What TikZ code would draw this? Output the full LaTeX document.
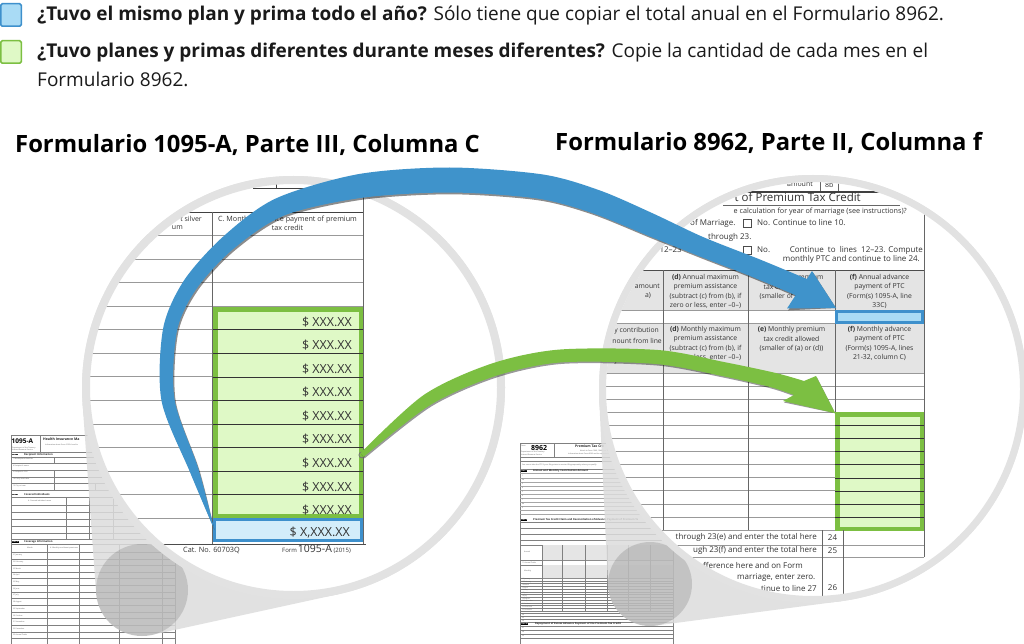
\documentclass[tikz,border=0pt]{standalone}
\usepackage{fontspec}
\setmainfont{Open Sans}
\usetikzlibrary{calc}
\definecolor{ringgrey}{HTML}{E2E2E2}
\definecolor{conegrey}{HTML}{DCDCDC}
\definecolor{arrowblue}{HTML}{3F93CB}
\definecolor{boxblue}{HTML}{3E90CC}
\definecolor{fillblueA}{HTML}{D3EDFA}
\definecolor{fillblueB}{HTML}{A9DBF5}
\definecolor{arrowgreen}{HTML}{7CBF42}
\definecolor{fillgreen}{HTML}{DFF9C6}
\definecolor{hdrgrey}{HTML}{E4E4E4}
\definecolor{txtgrey}{HTML}{333333}
\definecolor{legtxt}{HTML}{1A1A1A}
\newcommand{\fsz}[1]{\fontsize{#1}{#1}\selectfont}
\newcommand{\fszl}[2]{\fontsize{#1}{#2}\selectfont}
\tikzset{
  legtext/.style={anchor=west, inner sep=0, font=\fsz{19}, text=legtxt},
  heading/.style={anchor=west, inner sep=0, font=\bfseries\fsz{23.8}, text=black},
  legbox/.style={line width=1.5pt, minimum width=20.5pt, minimum height=22.5pt, inner sep=0, rounded corners=1.5pt},
  hlbox/.style={anchor=north west, inner sep=0, outer sep=0},
  formline/.style={draw=black!50, line width=0.3pt},
  tinytxt/.style={inner sep=0, anchor=west, text=black!65, font=\fsz{1.8}},
  tinybold/.style={inner sep=0, anchor=west, text=black!85, font=\bfseries\fsz{2.6}},
  partlbl/.style={inner sep=0.3pt, fill=black, text=white, font=\bfseries\fsz{1.8}, anchor=west},
  gridline/.style={draw=black!40, line width=0.9pt},
  darkline/.style={draw=black!75, line width=0.7pt},
  colline/.style={draw=black!60, line width=0.8pt},
  money/.style={inner sep=0, anchor=base east, font=\fsz{12.5}, text=txtgrey},
  hdrtxt/.style={inner sep=0, align=center, font=\fszl{6.8}{9.5}, text=txtgrey},
  formtxt/.style={inner sep=0, font=\fsz{8}, text=txtgrey},
}
\newcommand{\bluearrowshape}[1]{%
\fill[#1] plot[smooth, tension=0.5] coordinates {(btail) (189.7,471.4) (161.5,400.7) (163.1,328.6) (183.7,280.9) (222.5,237.2) (275.3,198.7) (358,174.2) (449.6,167.5) (543,174.5) (600,190.5) (652,213) (703,237) (760,259.5) (806.9,279)}
 -- (812,271) -- (btip) -- (787,308.5)
 -- plot[smooth, tension=0.5] coordinates {(795.6,295.2) (750,276) (700,256.5) (650,236.5) (592,213) (537,198.5) (450.4,192.5) (362,197.8) (284.7,215.3) (233.5,248.8) (196.3,289.1) (176.9,331.4) (174.5,399.4) (198.3,468.6) (btail)} -- cycle;}
\newcommand{\greenarrowshape}[1]{%
\fill[#1] plot[smooth, tension=0.5] coordinates {(360.4,453.1) (423.7,395) (491,363.8) (559,349.6) (658,350) (724.4,362.1) (775.8,373) (804,381)}
 -- (816,376) -- (gtip) -- (783,401)
 -- plot[smooth, tension=0.5] coordinates {(794,395) (770.2,387) (721.6,375.9) (656,364) (561,362.4) (495,376.2) (430.3,405) (363.6,456.9)} -- cycle;}
\begin{document}
\begin{tikzpicture}[x=1pt,y=-1pt]
\useasboundingbox (0,0) rectangle (1024,644);
\fill[white] (0,0) rectangle (1024,644);

% ---------------- legend and headings
\node[legbox, draw=boxblue, fill=fillblueB] (legblue) at (11,15) {};
\node[legbox, draw=arrowgreen, fill=fillgreen] (leggreen) at (11,52) {};
\node[legtext] (leg1) at (37,16) {{\bfseries ¿Tuvo el mismo plan y prima todo el año?} Sólo tiene que copiar el total anual en el Formulario 8962.};
\node[legtext] (leg2) at (37,53) {{\bfseries ¿Tuvo planes y primas diferentes durante meses diferentes?} Copie la cantidad de cada mes en el};
\node[legtext] (leg3) at (37,79) {Formulario 8962.};
\node[heading] (headL) at (15,145) {Formulario 1095-A, Parte III, Columna C};
\node[heading] (headR) at (555,143) {Formulario 8962, Parte II, Columna f};

% ---------------- thumbnail of Form 1095-A
\draw[formline] (11,435) rectangle (175,660);
\node[inner sep=0, anchor=west, font=\bfseries\fsz{6.5}] (fa1) at (11.5,441.5) {1095-A};
\draw[formline] (40,435) -- (40,452);
\node[tinybold, font=\bfseries\fsz{3.5}] (fa2) at (43,439) {Health Insurance Ma};
\node[tinytxt] (fa3) at (45,444.5) {Information about Form 1095-A and its};
\node[tinytxt] (fa4) at (12,448) {Department of the Treasury};
\node[tinytxt] (fa5) at (12,450.3) {Internal Revenue Service};
\draw[formline] (11,452) -- (175,452);
\node[partlbl] (fa6) at (12,454.5) {Part I};
\node[tinybold] (fa7) at (24,454.5) {Recipient Information};
\foreach \y in {457,463.5,470,477,483.5,490} \draw[formline] (11,\y) -- (175,\y);
\draw[formline] (54,457) -- (54,463.5) (54,470) -- (54,490) (95,483.5) -- (95,490);
\node[tinytxt] (fa8) at (13,459.5) {1 Marketplace identifier};
\node[tinytxt] (fa9) at (13,466) {4 Recipient's name};
\node[tinytxt] (fa10) at (13,472.5) {5 Recipient's SSN};
\node[tinytxt] (fa11) at (13,479.5) {10 Policy start date};
\node[tinytxt] (fa12) at (13,486) {12 City or town};
\node[partlbl] (fa13) at (12,494.5) {Part II};
\node[tinybold] (fa14) at (24,494.5) {Covered Individuals};
\foreach \y in {497,505,512,519,526,533,539.5} \draw[formline] (11,\y) -- (175,\y);
\draw[formline] (66,497) -- (66,539.5) (89,497) -- (89,539.5) (113,497) -- (113,539.5);
\node[tinytxt] (fa15) at (28,501) {A. Covered individual name};
\node[partlbl] (fa16) at (12,542) {Part III};
\node[tinybold] (fa17) at (24,542) {Coverage Information};
\draw[formline] (11,544) -- (175,544) (11,552) -- (175,552);
\foreach \i/\m in {0/21 January,1/22 February,2/23 March,3/24 April,4/25 May,5/26 June,6/27 July,7/28 August,8/29 September,9/30 October,10/31 November,11/32 December,12/33 Annual Totals} {
  \draw[formline] (11,{552+6.65*(\i+1)}) -- (175,{552+6.65*(\i+1)});
  \node[tinytxt] (mo\i) at (13,{555.5+6.65*\i}) {\m};
}
\draw[formline] (47,544) -- (47,650) (79,544) -- (79,650) (119,544) -- (119,650) (162,544) -- (162,650);
\node[tinytxt] (fa18) at (27,548) {Month};
\node[tinytxt] (fa19) at (50,548) {A. Monthly enrollment premiums};

% ---------------- thumbnail of Form 8962
\draw[formline] (520,443) rectangle (673,660);
\node[tinytxt] (fb1) at (521,446) {Form};
\node[inner sep=0, anchor=west, font=\bfseries\fsz{7}] (fb2) at (531,447.5) {8962};
\draw[formline] (554,443) -- (554,457);
\node[tinybold, font=\bfseries\fsz{3.4}] (fb3) at (575,446) {Premium Tax Cre};
\node[tinytxt] (fb4) at (521,452) {Department of the Treasury};
\node[tinytxt] (fb5) at (521,454.5) {Internal Revenue Service};
\node[tinytxt] (fb6) at (580,450.5) {Attach to Form 1040, 1040A, or 1040NR.};
\node[tinytxt] (fb7) at (568,454) {Information about Form 8962 and its separate instructions};
\draw[formline] (520,457) -- (673,457) (520,461) -- (673,461) (520,469) -- (673,469);
\node[tinytxt] (fb8) at (522,465) {You cannot take the PTC if your filing status is married filing separately unless you qualify};
\node[partlbl] (fb9) at (521,471.3) {Part I};
\node[tinybold] (fb10) at (533,471.3) {Annual and Monthly Contribution Amount};
\foreach \y in {473.5,478,482,486,490,494,498,502,506,510,514} \draw[formline, draw=black!35] (520,\y) -- (673,\y);
\foreach \y/\t in {476/1,480/2a,484/3,488/4,492/5,496/6,500/7,504/8a,508/9} \node[tinytxt] (fbn\t) at (522,\y) {\t};
\node[partlbl] (fb11) at (521,520) {Part II};
\node[tinybold] (fb12) at (533,520) {Premium Tax Credit Claim and Reconciliation of Advance Payment of Premium Ta};
\foreach \y in {522.5,528,534,540,545,560,565,578} \draw[formline] (520,\y) -- (673,\y);
\fill[black!10] (542,545) rectangle (673,560) (542,565) rectangle (673,578);
\node[tinytxt] (fb13) at (524,552) {Annual};
\node[tinytxt] (fb14) at (522,562.5) {11 Annual Totals};
\node[tinytxt] (fb15) at (524,571) {Monthly};
\foreach \i/\m in {0/12 January,1/13 February,2/14 March,3/15 April,4/16 May,5/17 June,6/18 July,7/19 August,8/20 September,9/21 October,10/22 November,11/23 December} {
  \draw[formline] (520,{578+2.75*(\i+1)}) -- (673,{578+2.75*(\i+1)});
  \node[tinytxt, font=\fsz{1.6}] (mb\i) at (522,{579.4+2.75*\i}) {\m};
}
\foreach \x in {542,562,585,607,628,650} \draw[formline] (\x,545) -- (\x,611);
\foreach \y in {613,616,619,622} \draw[formline] (520,\y) -- (673,\y);
\node[tinytxt] (fb16) at (522,614.5) {24};
\node[tinytxt] (fb17) at (522,617.5) {25};
\node[tinytxt] (fb18) at (522,620.5) {26};
\node[partlbl] (fb19) at (521,624) {Part III};
\node[tinybold] (fb20) at (535,624) {Repayment of Excess Advance Payment of the Premium Tax Credit};
\foreach \y in {626,630,634,638} \draw[formline] (520,\y) -- (673,\y);
\node[tinytxt] (fb21) at (522,628) {27};
\node[tinytxt] (fb22) at (522,632) {28};
\node[tinytxt] (fb23) at (522,636) {29};

% ---------------- magnifier cones
\begin{scope}[transparency group, opacity=0.85]
 \fill[conegrey] (82.5,402.5) -- (96.1,593.3) -- (151.8,634.9) -- (338.7,594.1) -- (293.5,387.5) -- cycle;
 \fill[conegrey] (142,590) circle (46pt);
 \fill[conegrey] (293.5,387.5) circle (211.5pt);
 \fill[conegrey] (599.2,399) -- (608,586) -- (655.5,625.6) -- (841,601.2) -- (813,389) -- cycle;
 \fill[conegrey] (650,584) circle (42pt);
 \fill[conegrey] (813,389) circle (214pt);
\end{scope}
\fill[black, opacity=0.13] (142,590) circle (46pt);
\fill[black, opacity=0.13] (650,584) circle (42pt);

% ---------------- left magnified view
\fill[white] (293.5,387.5) circle (208pt);
\begin{scope}
\clip (293.5,387.5) circle (204pt);
\draw[darkline] (253,188) -- (366,188);
\draw[darkline] (276,176) -- (276,188);
\draw[darkline] (60,212) -- (363,212);
\foreach \k in {1,...,13} \draw[gridline] (60,{212+23.55*\k}) -- (363,{212+23.55*\k});
\draw[colline] (212,212) -- (212,545);
\draw[colline] (363,188) -- (363,545);
\node[inner sep=0, anchor=east, font=\fsz{7}, text=txtgrey] (lhB1) at (202,219) {t silver};
\node[inner sep=0, anchor=east, font=\fsz{7}, text=txtgrey] (lhB2) at (183,227.5) {um};
\node[hdrtxt, font=\fszl{7.2}{8.5}] (lhC) at (287.5,223.5) {C. Monthly advance payment of premium\\tax credit};
\node[hlbox, draw=arrowgreen, line width=4.5pt, fill=fillgreen, minimum width=145.5pt, minimum height=206.5pt] (lgreen) at (215.25,309.25) {};
\foreach \k in {1,...,8} \draw[black!80, line width=0.6pt] (213,{306.2+23.55*\k}) -- (363,{306.2+23.55*\k});
\foreach \k in {1,...,9} \node[money] (m\k) at (352,{306.2+23.55*\k-3.6}) {\$ XXX.XX};
\node[hlbox, draw=boxblue, line width=3pt, fill=fillblueA, minimum width=147pt, minimum height=21pt] (lblue) at (214.5,519.5) {};
\node[money] (mtot) at (350,536.5) {\$ X,XXX.XX};
\draw[black!70, line width=1.5pt] (60,544.5) -- (366,544.5);
\node[inner sep=0, anchor=base west, font=\fsz{7.3}, text=txtgrey] (catno) at (183,552.5) {Cat. No. 60703Q};
\node[inner sep=0, anchor=base west, text=txtgrey] (formno) at (282,552.5) {{\fsz{6}Form\,}{\fsz{10.5}1095-A}{\fsz{6} (2015)}};
\end{scope}
\draw[ringgrey, line width=8pt] (293.5,387.5) circle (207.5pt);

% ---------------- right magnified view
\fill[white] (813,389) circle (210pt);
\begin{scope}
\clip (813,389) circle (207pt);
\node[formtxt, font=\fsz{7}, anchor=east] (ramt) at (813,184.5) {amount};
\node[formtxt, font=\fsz{7}, anchor=west] (r8b) at (825,184.5) {8b};
\draw[colline] (820,170) -- (820,192) (838,170) -- (838,192);
\draw[black!75, line width=1.3pt] (720,192) -- (926,192);
\node[formtxt, font=\fsz{11.5}, anchor=base east] (rtitle) at (861,202) {t of Premium Tax Credit};
\draw[black!60, line width=0.6pt] (723,205.5) -- (900,205.5);
\node[formtxt, font=\fsz{7.2}, anchor=east] (rl1) at (907,211.5) {e calculation for year of marriage (see instructions)?};
\node[formtxt, anchor=west] (rl2) at (690,223) {of Marriage.};
\draw[black!70, line width=0.6pt] (743,219) rectangle (751,227);
\node[formtxt, anchor=west] (rl3) at (757,223) {No. Continue to line 10.};
\node[formtxt, anchor=west] (rl4) at (708,237) {through 23.};
\node[formtxt, anchor=east] (rl5) at (682,250) {12–23};
\draw[black!70, line width=0.6pt] (743,246) rectangle (751,254);
\node[formtxt, anchor=west] (rl6a) at (757,250) {No.};
\node[formtxt, anchor=east] (rl6) at (923,250) {Continue\ \ to\ \ lines\ \ 12–23. Compute};
\node[formtxt, anchor=east] (rl7) at (920,259.5) {monthly PTC and continue to line 24.};
\fill[hdrgrey] (595,270) rectangle (924,310);
\fill[hdrgrey] (595,323) rectangle (924,373);
\draw[black!70, line width=1pt] (595,270) -- (924,270);
\draw[gridline] (595,310) -- (924,310) (595,323) -- (924,323);
\foreach \k in {0,...,12} \draw[gridline] (595,{373+13.1*\k}) -- (924,{373+13.1*\k});
\draw[colline] (663,270) -- (663,530.2) (748,270) -- (748,530.2) (835,270) -- (835,530.2);
\draw[colline] (924,214) -- (924,557);
\node[formtxt, font=\fsz{6.8}, anchor=east] (rha) at (660,286) {amount};
\node[formtxt, font=\fsz{6.8}, anchor=east] (rhb) at (651,295.5) {a)};
\node[hdrtxt] (rhd1) at (705.5,291.5) {{\bfseries (d)} Annual maximum\\premium assistance\\(subtract (c) from (b), if\\zero or less, enter –0–)};
\node[hdrtxt] (rhe1) at (791.5,287) {{\bfseries (e)} Annual premium\\tax credit allowed\\(smaller of (a) or (d))};
\node[hdrtxt] (rhf1) at (879.5,291.5) {{\bfseries (f)} Annual advance\\payment of PTC\\(Form(s) 1095-A, line\\33C)};
\node[formtxt, font=\fsz{6.8}, anchor=east] (rhc1) at (659,331) {y contribution};
\node[formtxt, font=\fsz{6.8}, anchor=east] (rhc2) at (662,340.5) {nount from line};
\node[formtxt, font=\fsz{6.8}, anchor=east] (rhc3) at (659,361) {y contribution};
\node[hdrtxt] (rhd2) at (705.5,343.5) {{\bfseries (d)} Monthly maximum\\premium assistance\\(subtract (c) from (b), if\\zero or less, enter –0–)};
\node[hdrtxt] (rhe2) at (791.5,339) {{\bfseries (e)} Monthly premium\\tax credit allowed\\(smaller of (a) or (d))};
\node[hdrtxt] (rhf2) at (879.5,343.5) {{\bfseries (f)} Monthly advance\\payment of PTC\\(Form(s) 1095-A, lines\\21-32, column C)};
\node[hlbox, draw=boxblue, line width=3pt, fill=fillblueB, minimum width=86pt, minimum height=11pt] (rblue) at (836.5,311.5) {};
\node[hlbox, draw=arrowgreen, line width=4.5pt, fill=fillgreen, minimum width=84.5pt, minimum height=114.5pt] (rgreen) at (837.25,414.25) {};
\foreach \k in {4,...,11} \draw[black!80, line width=0.6pt] (835,{373+13.1*\k}) -- (924,{373+13.1*\k});
\draw[gridline] (595,545) -- (924,545) (595,557) -- (924,557);
\draw[colline] (822,530.2) -- (822,600) (843,530.2) -- (843,600);
\node[formtxt, anchor=east] (rb1) at (817,537.5) {through 23(e) and enter the total here};
\node[formtxt] (rb2) at (832.5,537.5) {24};
\node[formtxt, anchor=east] (rb3) at (817,550.5) {ugh 23(f) and enter the total here};
\node[formtxt] (rb4) at (832.5,550.5) {25};
\node[formtxt, anchor=west] (rb5) at (703,565) {fference here and on Form};
\node[formtxt, anchor=west] (rb6) at (737,578) {marriage, enter zero.};
\node[formtxt, anchor=east] (rb7) at (817,588) {tinue to line 27};
\node[formtxt] (rb8) at (832.5,588) {26};
\end{scope}
\draw[ringgrey, line width=7pt] (813,389) circle (210.5pt);

% ---------------- arrows
\coordinate (btail) at (lblue.west);
\coordinate (btip) at ($(rblue.north west)+(-0.5,-3.5)$);
\coordinate (gtail) at ($(lgreen.east)+(1,42.5)$);
\coordinate (gtip) at ($(rgreen.north west)+(-2,-1)$);
\bluearrowshape{black, opacity=0.45, xshift=1.2pt, yshift=-1.8pt}
\bluearrowshape{arrowblue}
\draw[black!55, line width=0.8pt, fill=arrowgreen] (gtail) circle (2.8pt);
\greenarrowshape{black, opacity=0.4, xshift=1pt, yshift=-1.5pt}
\greenarrowshape{arrowgreen}
\end{tikzpicture}
\end{document}
